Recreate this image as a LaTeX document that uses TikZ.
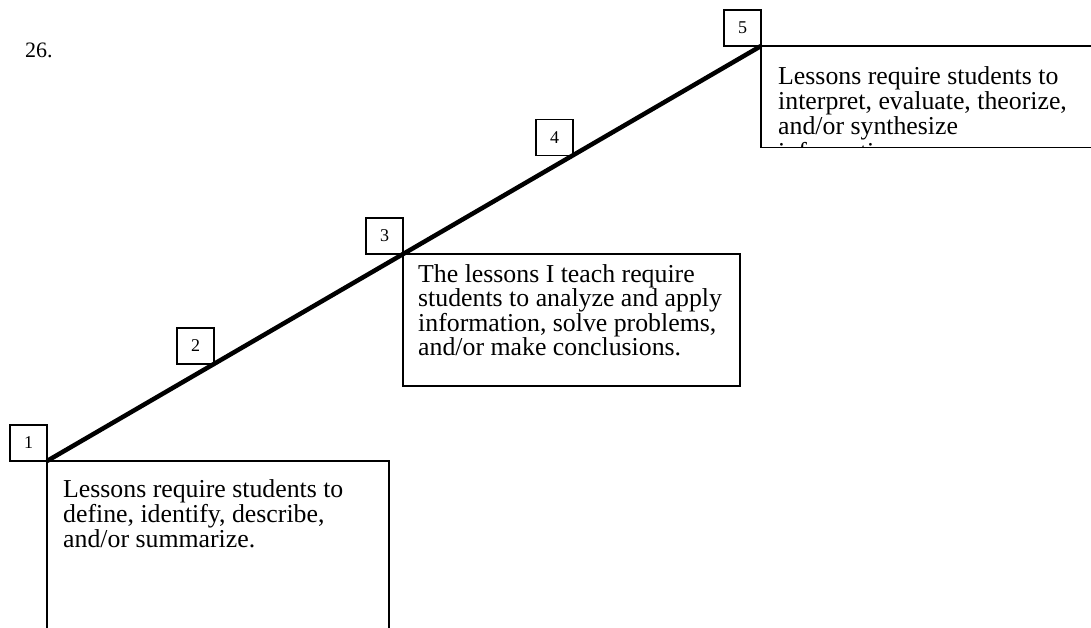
\documentclass[tikz,border=0pt]{standalone}
\usepackage{fontspec}
\setmainfont{Liberation Serif}
\begin{document}
\begin{tikzpicture}[x=1pt,y=-1pt,
  numbox/.style={draw,line width=1.3pt,minimum width=37pt,minimum height=36pt,
    inner sep=0pt,outer sep=0pt,anchor=south east,font=\fontsize{18}{20}\selectfont},
  frame/.style={line width=1.6pt},
  body/.style={anchor=north west,inner sep=0pt,align=left,
    font=\fontsize{25.8}{25.2}\selectfont}]
\useasboundingbox (0,0) rectangle (1091,628);

% question number
\node[anchor=base west,inner sep=0pt,font=\fontsize{22}{24}\selectfont] (qnum) at (25,58) {26.};

% points on the scale line
\coordinate (c1) at (47,461);
\coordinate (c2) at (214,364);
\coordinate (c3) at (403,254);
\coordinate (c4) at (573,155.5);
\coordinate (c5) at (761,46);

% scale labels
\node[numbox] (lab1) at (c1) {1};
\node[numbox] (lab2) at (c2) {2};
\node[numbox] (lab3) at (c3) {3};
\node[numbox] (lab4) at (c4) {4};
\node[numbox] (lab5) at (c5) {5};

% the scale line
\draw[line width=4.5pt] (lab1.south east) -- (lab5.south east);

% description boxes
\draw[frame] (47,635) -- (lab1.south east) -- (389,461) -- (389,635);
\draw[frame] (lab3.south east) rectangle (740,386);
\draw[frame] (1095,46) -- (lab5.south east) -- (761,147.5) -- (1095,147.5);

\node[body] (t1) at (63,479.4) {Lessons require students to\\define, identify, describe,\\and/or summarize.};
\node[body, font=\fontsize{25.8}{24.3}\selectfont] (t3) at (418,264.4) {The lessons I teach require\\students to analyze and apply\\information, solve problems,\\and/or make conclusions.};
\begin{scope}
  \clip (761,46) rectangle (1091,146.5);
  \node[body] (t5) at (778,66.4) {Lessons require students to\\interpret, evaluate, theorize,\\and/or synthesize\\information.};
\end{scope}
\end{tikzpicture}
\end{document}
